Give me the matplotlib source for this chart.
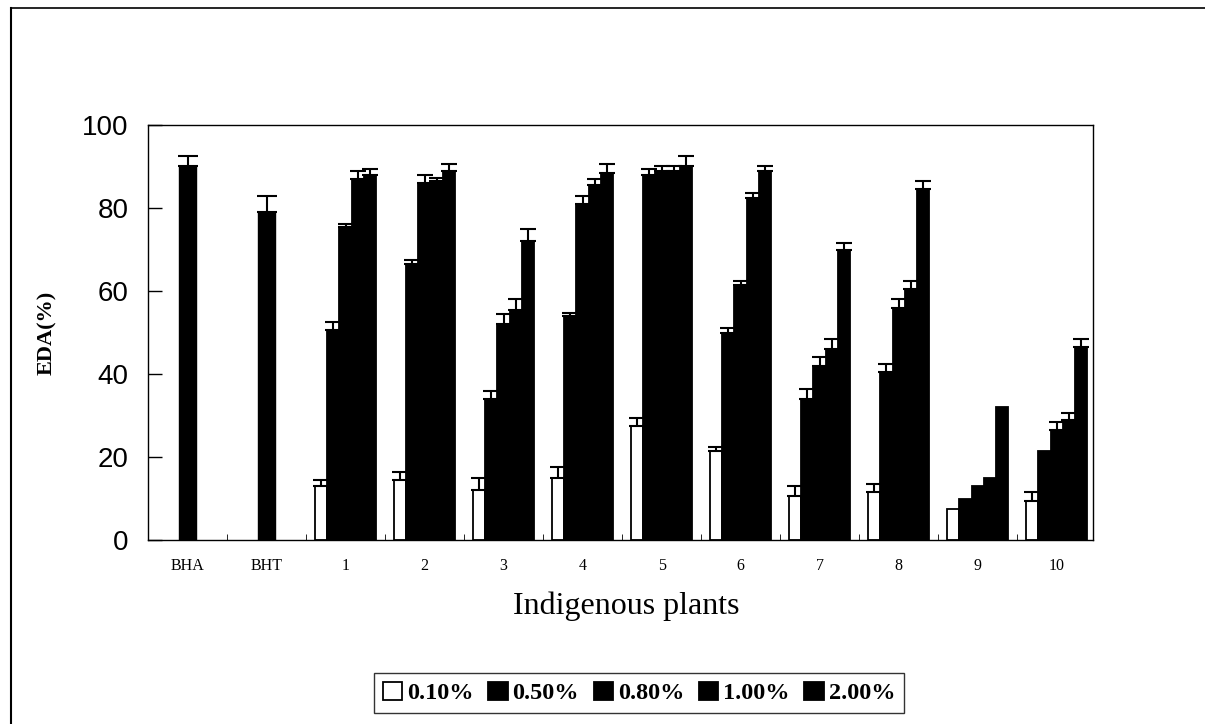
import matplotlib
matplotlib.use("Agg")
import matplotlib.pyplot as plt
from matplotlib.patches import Patch
from matplotlib.lines import Line2D
import numpy as np

categories = ["BHA", "BHT", "1", "2", "3", "4", "5", "6", "7", "8", "9", "10"]
series_names = ["0.10%", "0.50%", "0.80%", "1.00%", "2.00%"]

# standards (single bar each)
std_values = [90, 79]
std_errors = [2.5, 4]

# indigenous plants 1..10, per concentration
v010 = [13, 14.5, 12, 15, 27.5, 21.5, 10.5, 11.5, 7.5, 9.5]
v050 = [50.5, 66.5, 34, 54, 88, 50, 34, 40.5, 10, 21.5]
v080 = [75.5, 86, 52, 81, 89, 61.5, 42, 56, 13, 26.5]
v100 = [87, 86.5, 55.5, 85.5, 89, 82.5, 46, 60.5, 15, 29]
v200 = [88, 89, 72, 88.5, 90, 89, 70, 84.5, 32, 46.5]

e010 = [1.5, 2, 3, 2.5, 2, 1, 2.5, 2, 0, 2]
e050 = [2, 1, 2, 0.8, 1.5, 1, 2.5, 2, 0, 0]
e080 = [0.7, 2, 2.5, 2, 1, 1, 2, 2, 0, 2]
e100 = [2, 0.8, 2.5, 1.5, 1, 1, 2.5, 2, 0, 1.5]
e200 = [1.5, 1.7, 3, 2, 2.5, 1, 1.5, 2, 0, 2]

series_vals = [v010, v050, v080, v100, v200]
series_errs = [e010, e050, e080, e100, e200]
series_colors = ["white", "black", "black", "black", "black"]

fig = plt.figure(figsize=(12.05, 7.24), dpi=100)
ax = fig.add_axes([148 / 1205, 1 - 540 / 724, (1093 - 148) / 1205, (540 - 125) / 724])

serif = ["Liberation Serif", "DejaVu Serif"]
sans = ["Liberation Sans", "DejaVu Sans"]

bw = 0.155
x_all = np.arange(len(categories))
# standards
ax.bar(x_all[:2], std_values, width=0.21, color="black", edgecolor="black")
ax.errorbar(x_all[:2], std_values, yerr=[[0, 0], std_errors], fmt="none", ecolor="black",
            elinewidth=1.5, capsize=7, capthick=1.5)
# plant groups
xp = x_all[2:]
for i, (vals, errs, col) in enumerate(zip(series_vals, series_errs, series_colors)):
    xs = xp + (i - 2) * bw
    ax.bar(xs, vals, width=bw, color=col, edgecolor="black", linewidth=1.3)
    idx = [k for k, e in enumerate(errs) if e > 0]
    ax.errorbar(xs[idx], np.array(vals)[idx], yerr=[[0] * len(idx), np.array(errs)[idx]],
                fmt="none", ecolor="black", elinewidth=1.5, capsize=6, capthick=1.5)

ax.set_xlim(-0.5, 11.46)
ax.set_ylim(0, 100)
ax.set_yticks([0, 20, 40, 60, 80, 100])
ax.set_yticklabels(["0", "20", "40", "60", "80", "100"], fontfamily=sans, fontsize=20)
ax.tick_params(axis="y", direction="in", length=10, width=1, pad=14)
ax.set_xticks(x_all)
ax.set_xticklabels(categories, fontfamily=serif, fontsize=11.5)
ax.tick_params(axis="x", which="major", length=0, pad=13)
ax.set_xticks(x_all[:-1] + 0.5, minor=True)
ax.tick_params(axis="x", which="minor", direction="in", length=4)
for s in ax.spines.values():
    s.set_linewidth(1)

ax.set_ylabel("EDA(%)", fontfamily=serif, fontsize=16, fontweight="bold", labelpad=18)
ax.set_xlabel("Indigenous plants", fontfamily=serif, fontsize=23, labelpad=14)
ax.xaxis.set_label_coords(0.506, -0.125)

handles = [Patch(facecolor=c, edgecolor="black", linewidth=1.3) for c in series_colors]
leg = fig.legend(handles, series_names, loc="center", bbox_to_anchor=(639 / 1205, 1 - 693 / 724),
                 ncol=5, frameon=True, fancybox=False, edgecolor="black",
                 prop=dict(family=serif, size=17.5, weight="bold"),
                 handlelength=0.8, handleheight=0.8, handletextpad=0.2, columnspacing=0.6,
                 borderpad=0.35, borderaxespad=0)
leg.get_frame().set_linewidth(1)

# outer frame lines
fig.add_artist(Line2D([11 / 1205, 11 / 1205], [0, 1 - 8 / 724], color="black", lw=1.5, transform=fig.transFigure))
fig.add_artist(Line2D([11 / 1205, 1], [1 - 8 / 724, 1 - 8 / 724], color="black", lw=1.2, transform=fig.transFigure))

fig.savefig("out.png", dpi=100)
